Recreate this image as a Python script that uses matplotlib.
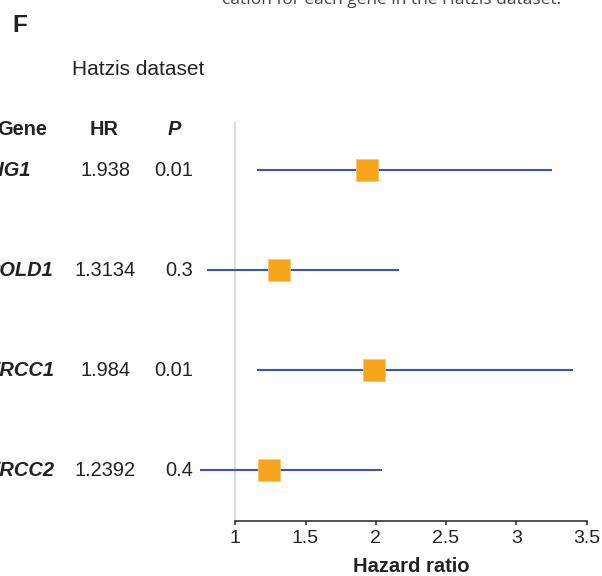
import matplotlib
matplotlib.use('Agg')
import matplotlib.pyplot as plt
import matplotlib.transforms as mtransforms

plt.rcParams['font.family'] = ['Liberation Sans', 'DejaVu Sans']

genes = ['LIG1', 'POLD1', 'ERCC1', 'ERCC2']
hr = [1.938, 1.3134, 1.984, 1.2392]
hr_text = ['1.938', '1.3134', '1.984', '1.2392']
p_text = ['0.01', '0.3', '0.01', '0.4']
ci_low = [1.155, 0.797, 1.157, 0.749]
ci_high = [3.254, 2.167, 3.400, 2.042]
xticks = [1, 1.5, 2, 2.5, 3, 3.5]

W, H = 602, 576
fig = plt.figure(figsize=(W / 100, H / 100), dpi=100)

# axes placed in pixels: x=1 at 235.3px, 140.5px per unit
x0, x1 = 0.6, 3.6
left_px = 235.3 - (1 - x0) * 140.5
width_px = (x1 - x0) * 140.5
bottom_px = 576 - 520.7
top_px = 576 - 122
ax = fig.add_axes([left_px / W, bottom_px / H, width_px / W, (top_px - bottom_px) / H])
ax.set_xlim(x0, x1)
ax.set_ylim(-0.507, 3.48)
ax.patch.set_alpha(0)

rows = list(range(len(genes)))[::-1]

ax.axvline(1, color='#d9d9d9', lw=1.3, zorder=1)
for y, lo, hi, h in zip(rows, ci_low, ci_high, hr):
    ax.plot([lo, hi], [y, y], color='#3a55b3', lw=1.5, zorder=2, solid_capstyle='butt')
    ax.plot(h, y, marker='s', markersize=15.6, color='#f9a51c', mec='#fbc56a',
            mew=0.5, zorder=3)

for s in ['left', 'top', 'right']:
    ax.spines[s].set_visible(False)
ax.spines['bottom'].set_bounds(1, 3.5)
ax.spines['bottom'].set_linewidth(1.1)
ax.spines['bottom'].set_color('#222222')
ax.set_yticks([])
ax.set_xticks(xticks)
ax.set_xticklabels(['1', '1.5', '2', '2.5', '3', '3.5'])
ax.tick_params(axis='x', direction='out', length=3, width=1.1, pad=3.5,
               labelsize=14, colors='#222222')
ax.text(2.25, -0.97, 'Hazard ratio', ha='center', va='center', fontsize=14.5,
        fontweight='bold', color='#222222')

# table columns to the left (partly cut at the left edge, as in the source)
tr = mtransforms.blended_transform_factory(fig.transFigure, ax.transData)
for y, g, ht, pt in zip(rows, genes, hr_text, p_text):
    fig.text(-13 / W, y, g, transform=tr, ha='left', va='center', fontsize=14.4,
             fontweight='bold', fontstyle='italic', color='#222222')
    fig.text(105.5 / W, y, ht, transform=tr, ha='center', va='center', fontsize=14.4,
             color='#222222')
    fig.text(193 / W, y, pt, transform=tr, ha='right', va='center', fontsize=14.4,
             color='#222222')

hy = 1 - 129.5 / H
fig.text(-3 / W, hy, 'Gene', ha='left', va='center', fontsize=14.4, fontweight='bold', color='#222222')
fig.text(104.5 / W, hy, 'HR', ha='center', va='center', fontsize=14.4, fontweight='bold', color='#222222')
fig.text(174 / W, hy, 'P', ha='center', va='center', fontsize=14.4, fontweight='bold',
         fontstyle='italic', color='#222222')

fig.text(12 / W, 1 - 25 / H, 'F', ha='left', va='center', fontsize=17.5, fontweight='bold', color='#222222')
fig.text(72.5 / W, 1 - 69.5 / H, 'Hatzis dataset', ha='left', va='center', fontsize=15, color='#222222')
fig.text(222 / W, 1 - 4 / H, 'cation for each gene in the Hatzis dataset.', ha='left',
         va='baseline', fontsize=12.5, family=['Open Sans', 'DejaVu Sans'], color='#444444')

fig.savefig('out.png', dpi=100)
